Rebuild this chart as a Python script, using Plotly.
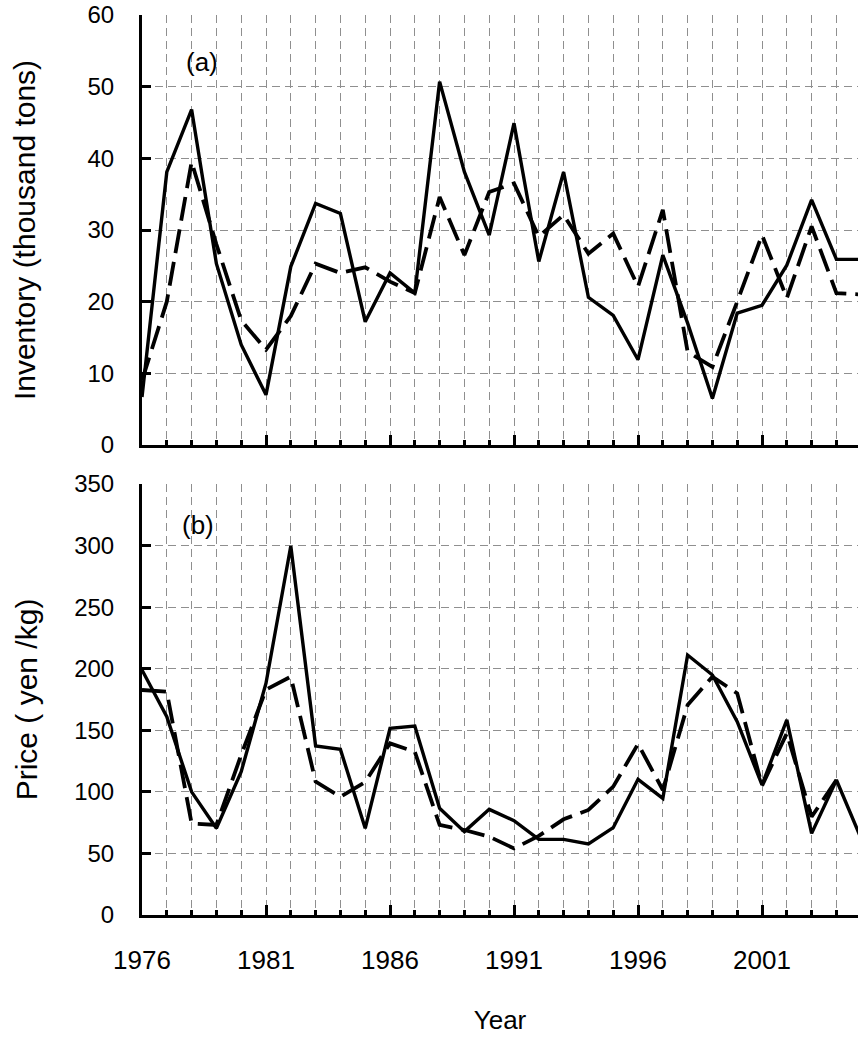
import plotly.graph_objects as go
from plotly.subplots import make_subplots

years = list(range(1976, 2006))

# Panel (a): Inventory (thousand tons)
inventory_solid = [6.7, 38.1, 46.8, 25.3, 14.0, 7.0, 24.9, 33.7, 32.3, 17.2,
                   24.0, 21.2, 50.7, 38.1, 29.3, 44.9, 25.6, 38.1, 20.6, 18.1,
                   11.9, 26.5, 17.0, 6.5, 18.4, 19.5, 25.1, 34.2, 25.9, 25.9]
inventory_dashed = [9.0, 20.0, 39.5, 28.0, 17.4, 13.3, 18.0, 25.3, 24.0, 24.8,
                    22.8, 21.2, 34.6, 26.5, 35.3, 36.5, 29.1, 32.1, 26.7, 29.5,
                    22.1, 32.8, 13.0, 10.9, 20.0, 29.3, 20.5, 30.5, 21.2, 21.0]

# Panel (b): Price (yen/kg)
price_solid = [199, 161, 100, 70.4, 116.4, 188.2, 299.7, 137.2, 134.5, 70.4,
               151.6, 153.5, 86.6, 67.7, 85.8, 76.6, 61.4, 61.4, 57.7, 70.9,
               110.2, 94.7, 211.1, 194.9, 157, 105.6, 158.4, 66.3, 109.6, 62]
price_dashed = [182.7, 181.3, 74.4, 73.1, 130, 183, 193.5, 108.3, 96, 108,
                139.4, 132.6, 73.1, 69, 63.6, 54.1, 64.2, 77.7, 85.3, 104.2,
                138.9, 101.5, 170.5, 193.5, 180, 105, 147.5, 79.8, 109.6, None]

inv_ticks = [0, 10, 20, 30, 40, 50, 60]
price_ticks = [0, 50, 100, 150, 200, 250, 300, 350]
year_ticks = [1976, 1981, 1986, 1991, 1996, 2001]

FONT = "Liberation Sans, Arial, sans-serif"
GRID = "#8f8f8f"
GRIDDASH = "8px,5px"

fig = make_subplots(rows=2, cols=1)

fig.add_trace(go.Scatter(x=years, y=inventory_solid, mode="lines", name="Actual",
                         line=dict(color="black", width=3.4)), row=1, col=1)
fig.add_trace(go.Scatter(x=years, y=inventory_dashed, mode="lines", name="Estimated",
                         line=dict(color="black", width=3.8, dash="24px,9px")), row=1, col=1)
fig.add_trace(go.Scatter(x=years, y=price_solid, mode="lines", name="Actual",
                         line=dict(color="black", width=3.4)), row=2, col=1)
fig.add_trace(go.Scatter(x=years, y=price_dashed, mode="lines", name="Estimated",
                         line=dict(color="black", width=3.8, dash="24px,9px")), row=2, col=1)

xcommon = dict(
    range=[1976, 2004.87], tickmode="array", tickvals=year_ticks,
    ticks="inside", ticklen=10, tickwidth=3, tickcolor="black",
    showline=True, linewidth=3, linecolor="black",
    showgrid=True, gridcolor=GRID, griddash=GRIDDASH, gridwidth=1,
    zeroline=False,
    minor=dict(dtick=1, tick0=1976, ticks="inside", ticklen=5, tickwidth=3,
               tickcolor="black", showgrid=True, gridcolor=GRID,
               griddash=GRIDDASH, gridwidth=1),
    tickfont=dict(family=FONT, size=26, color="black"),
)
ycommon = dict(
    ticks="inside", ticklen=9, tickwidth=3, tickcolor="black",
    showline=True, linewidth=3, linecolor="black",
    showgrid=True, gridcolor=GRID, griddash=GRIDDASH, gridwidth=1,
    zeroline=False, tickfont=dict(family=FONT, size=24, color="black"),
    ticklabelstandoff=20,
)

fig.update_xaxes(**xcommon)
fig.update_xaxes(showticklabels=False, row=1, col=1)
fig.update_xaxes(ticklabelstandoff=20,
                 title=dict(text="Year", font=dict(family=FONT, size=26, color="black"),
                            standoff=37), row=2, col=1)

fig.update_yaxes(**ycommon)
fig.update_yaxes(range=[0, 60], tickmode="array", tickvals=inv_ticks, domain=[0.5222, 1.0],
                 title=dict(text="Inventory (thousand tons)",
                            font=dict(family=FONT, size=30, color="black"), standoff=43),
                 row=1, col=1)
fig.update_yaxes(range=[0, 350], tickmode="array", tickvals=price_ticks, domain=[0.0, 0.4789],
                 title=dict(text="Price ( yen /kg)",
                            font=dict(family=FONT, size=30, color="black"), standoff=28),
                 row=2, col=1)

fig.add_annotation(text="(a)", x=0.0838, y=0.948, xref="paper", yref="paper",
                   xanchor="center", yanchor="middle",
                   showarrow=False, font=dict(family=FONT, size=26, color="black"))
fig.add_annotation(text="(b)", x=0.078, y=0.433, xref="paper", yref="paper",
                   xanchor="center", yanchor="middle",
                   showarrow=False, font=dict(family=FONT, size=26, color="black"))

fig.update_layout(
    width=858, height=1039,
    margin=dict(l=142, r=0, t=15, b=124),
    paper_bgcolor="white", plot_bgcolor="white",
    showlegend=False,
    font=dict(family=FONT, color="black"),
)

# remove the default page margin so the figure fills the window exactly
fig.write_html("out.html",
               config={"displayModeBar": False},
               post_script="document.body.style.margin='0';document.body.style.overflow='hidden';")
